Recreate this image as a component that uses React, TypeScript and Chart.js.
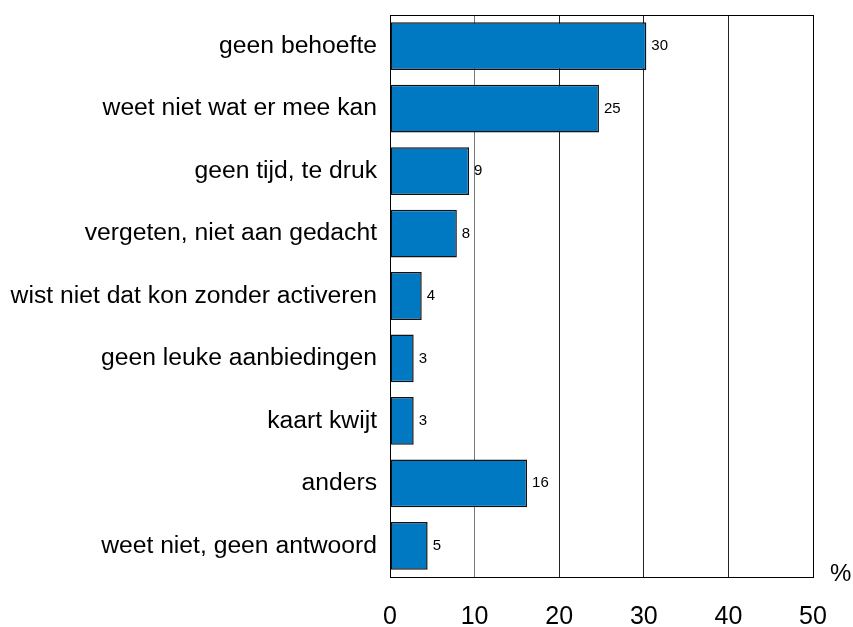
import React, { useEffect, useRef } from "react";
import { Chart, registerables } from "chart.js";

Chart.register(...registerables);

const categories = [
  "geen behoefte",
  "weet niet wat er mee kan",
  "geen tijd, te druk",
  "vergeten, niet aan gedacht",
  "wist niet dat kon zonder activeren",
  "geen leuke aanbiedingen",
  "kaart kwijt",
  "anders",
  "weet niet, geen antwoord",
];
const values = [30.3, 24.7, 9.35, 7.9, 3.75, 2.8, 2.8, 16.2, 4.45];
const valueLabels = ["30", "25", "9", "8", "4", "3", "3", "16", "5"];
const xTicks = [0, 10, 20, 30, 40, 50];
const unitLabel = "%";

const FONT = "Arial, 'Liberation Sans', sans-serif";

export default function App() {
  const ref = useRef<HTMLCanvasElement | null>(null);
  useEffect(() => {
    if (!ref.current) return;
    const extras = {
      id: "extras",
      afterDatasetsDraw(chart: any) {
        const { ctx, chartArea } = chart;
        ctx.save();
        ctx.strokeStyle = "#000";
        ctx.lineWidth = 1;
        ctx.strokeRect(chartArea.left + 0.5, chartArea.top + 0.5, chartArea.right - chartArea.left, chartArea.bottom - chartArea.top);
        const meta = chart.getDatasetMeta(0);
        ctx.fillStyle = "#000";
        ctx.font = "15px " + FONT;
        ctx.textAlign = "left";
        ctx.textBaseline = "middle";
        meta.data.forEach((bar: any, i: number) => {
          ctx.fillText(valueLabels[i], bar.x + 5, bar.y);
        });
        ctx.font = "24px " + FONT;
        ctx.fillText(unitLabel, chartArea.right + 17, chartArea.bottom - 3);
        ctx.restore();
      },
    };
    const chart = new Chart(ref.current, {
      type: "bar",
      data: {
        labels: categories,
        datasets: [
          {
            data: values,
            backgroundColor: "#0078C2",
            borderColor: "#111",
            borderWidth: 1.5,
            borderSkipped: false,
            categoryPercentage: 1,
            barPercentage: 0.765,
          },
        ],
      },
      options: {
        indexAxis: "y",
        animation: false,
        responsive: false,
        maintainAspectRatio: false,
        layout: { padding: { top: 15, right: 40, left: 0, bottom: 0 } },
        plugins: { legend: { display: false }, tooltip: { enabled: false } },
        scales: {
          x: {
            min: 0,
            max: 50,
            afterBuildTicks: (scale: any) => {
              scale.ticks = xTicks.map((v) => ({ value: v }));
            },
            afterFit: (scale: any) => {
              scale.height = 50;
            },
            grid: {
              color: (c: any) => (c.tick && c.tick.value === 10 ? "#777" : "#222"),
              lineWidth: 1,
              drawTicks: false,
            },
            border: { display: true, color: "#000", width: 1 },
            ticks: {
              color: "#000",
              font: { size: 25, family: FONT },
              padding: 25,
            },
          },
          y: {
            afterFit: (scale: any) => {
              scale.width = 390;
              scale.paddingTop = 0;
              scale.paddingBottom = 0;
            },
            grid: { display: false, drawTicks: false },
            border: { display: true, color: "#000", width: 1 },
            ticks: {
              color: "#000",
              font: { size: 24.7, family: FONT },
              padding: 13,
            },
          },
        },
      },
      plugins: [extras],
    });
    return () => chart.destroy();
  }, []);
  return (
    <div style={{ position: "absolute", left: 0, top: 0, width: 853, height: 627, background: "#fff" }}>
      <canvas ref={ref} width={853} height={627} style={{ width: 853, height: 627 }} />
    </div>
  );
}
